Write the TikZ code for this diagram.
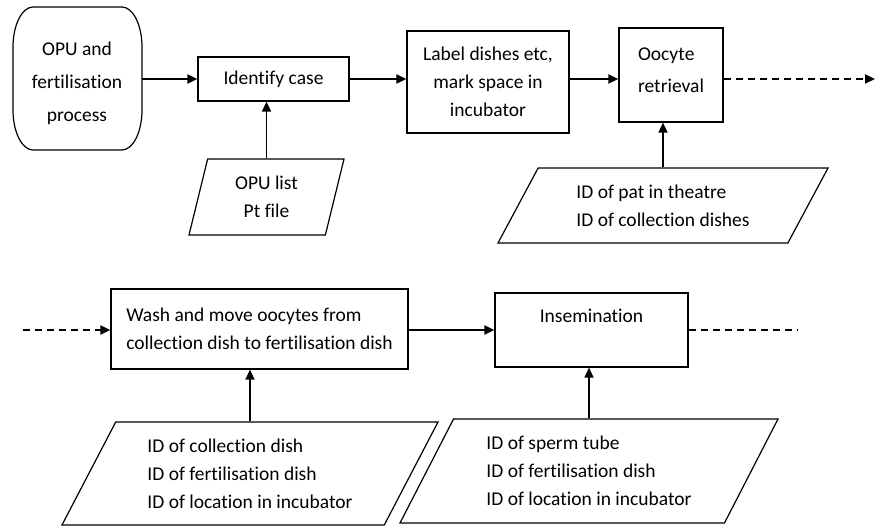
\documentclass[tikz,border=0pt]{standalone}
\usepackage{fontspec}
\setmainfont{Carlito}[Ligatures={NoCommon}]
\usetikzlibrary{arrows.meta,shapes.geometric}

\tikzset{
  every node/.style={font=\fontsize{19.5}{28}\selectfont},
  box/.style={draw,line width=1.2pt,rectangle,align=center,inner sep=3pt},
  datain/.style={draw,line width=1.2pt,trapezium,trapezium stretches body=true,align=left,inner sep=2pt},
  flow/.style={line width=1.9pt,-{Triangle[length=10pt,width=9pt]}},
  feed/.style={line width=1.5pt,-{Triangle[length=10pt,width=9pt]}},
  link/.style={line width=1.8pt,dash pattern=on 7pt off 5pt},
}

\begin{document}
\begin{tikzpicture}[x=1pt,y=-1pt]
            \useasboundingbox (0,0) rectangle (878,526);
            % first row
            \node (opu) at (77,83)[minimum width=129pt,minimum height=143pt,inner sep=0pt,align=center,font=\fontsize{19.5}{33}\selectfont]{OPU and\\fertilisation\\process};
            \draw[line width=1.2pt] (33,7) -- (122,7) .. controls (133,7) and (142,25) .. (142,47) -- (142,110)
                .. controls (142,132) and (133,150) .. (122,150) -- (33,150) .. controls (22,150) and (13,132) .. (13,110)
                -- (13,47) .. controls (13,25) and (22,7) .. (33,7) -- cycle;
            \node (ident) at (273.5,79)[box,minimum width=151pt,minimum height=44pt]{Identify case};
            \node (label) at (488,82)[box,minimum width=162pt,minimum height=102pt]{Label dishes etc,\\mark space in\\incubator};
            \node (oocyte) at (671,75)[box,align=left,minimum width=104pt,minimum height=94pt,text depth=10pt,font=\fontsize{19.5}{32}\selectfont]{Oocyte\\retrieval};
            \node (ptlist) at (266.5,197)[datain,align=center,trapezium left angle=67.8,trapezium right angle=112.2,minimum width=155pt,minimum height=76pt]{OPU list\\Pt file};
            \node (idpat) at (663,205.5)[datain,trapezium left angle=48.7,trapezium right angle=131.3,minimum width=330pt,minimum height=75pt]{ID of pat in theatre\\ID of collection dishes};
            \coordinate (outA) at (875,79);
            \draw[flow] (opu.east |- ident.west) -- (ident.west);
            \draw[flow] (ident.east) -- (ident.east -| label.west);
            \draw[flow] (label.east |- ident.east) -- (oocyte.west |- ident.east);
            \draw[link,-{Triangle[length=10pt,width=9pt]}] (oocyte.east |- ident.east) -- (outA);
            \draw[feed] (ptlist.center |- ptlist.north) -- (ptlist.center |- ident.south);
            \draw[feed] (idpat.center |- idpat.north) -- (idpat.center |- oocyte.south);
            % second row
            \node (wash) at (259.5,329)[box,align=left,minimum width=297pt,minimum height=80pt]{Wash and move oocytes from\\collection dish to fertilisation dish};
            \node (insem) at (591.5,330)[box,minimum width=193pt,minimum height=74pt,text height=14pt,text depth=28pt]{Insemination};
            \node (washin) at (250,473.5)[datain,trapezium left angle=53.9,trapezium right angle=126.1,minimum width=376pt,minimum height=103pt]{ID of collection dish\\ID of fertilisation dish\\ID of location in incubator};
            \node (insemin) at (589,471)[datain,trapezium left angle=54,trapezium right angle=126,minimum width=378pt,minimum height=104pt]{ID of sperm tube\\ID of fertilisation dish\\ID of location in incubator};
            \coordinate (inB) at (23,330);
            \coordinate (outB) at (797,330);
            \draw[link,-{Triangle[length=10pt,width=9pt]}] (inB) -- (inB -| wash.west);
            \draw[flow] (wash.east |- insem.west) -- (insem.west);
            \draw[link] (insem.east) -- (outB);
            \draw[feed] (washin.center |- washin.north) -- (washin.center |- wash.south);
            \draw[feed] (insemin.center |- insemin.north) -- (insemin.center |- insem.south);
\end{tikzpicture}
\end{document}
